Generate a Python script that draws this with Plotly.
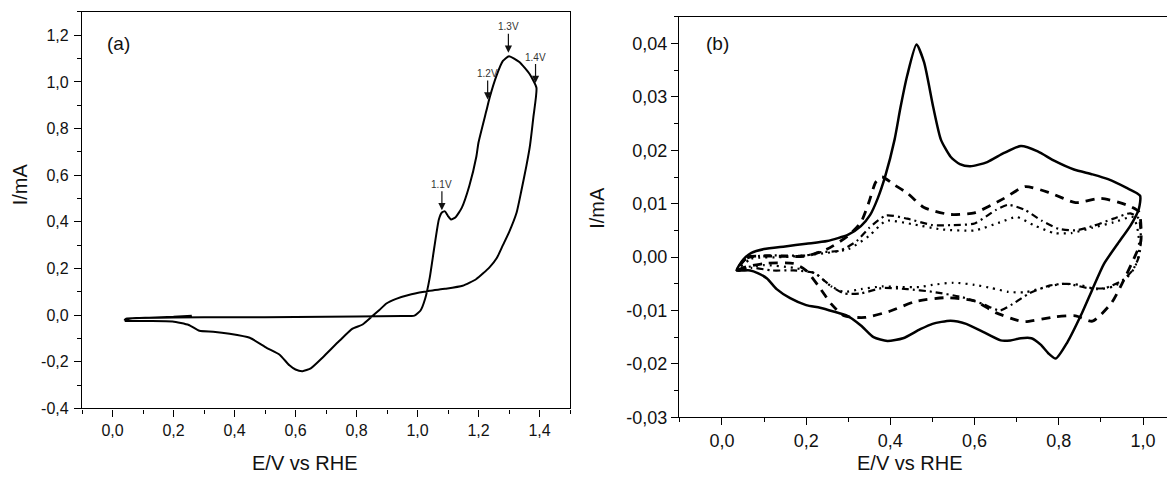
import plotly.graph_objects as go

# ---------------- Panel (a) data ----------------
a_x = [0.26, 0.20, 0.12, 0.06, 0.04, 0.045, 0.08, 0.2, 0.4, 0.6, 0.8, 0.95, 0.99, 1.01, 1.025, 1.04,
       1.055, 1.07, 1.08, 1.09, 1.10, 1.11, 1.125, 1.145, 1.17, 1.193, 1.2, 1.226, 1.236, 1.26, 1.28,
       1.30, 1.334, 1.367, 1.39,
       1.38, 1.368, 1.357, 1.34, 1.325, 1.30, 1.28, 1.26, 1.236, 1.193, 1.148, 1.09, 1.04, 0.98, 0.93,
       0.898, 0.875, 0.852, 0.82, 0.787, 0.744, 0.69, 0.65, 0.623, 0.6, 0.58, 0.548, 0.505, 0.45,
       0.384, 0.33, 0.285, 0.25, 0.197, 0.12, 0.04]
a_y = [-0.002, -0.007, -0.011, -0.014, -0.02, -0.015, -0.012, -0.010, -0.009, -0.008, -0.006, -0.004,
       -0.002, 0.02, 0.07, 0.16, 0.29, 0.41, 0.44, 0.445, 0.425, 0.41, 0.42, 0.46, 0.555, 0.68, 0.74,
       0.877, 0.93, 1.03, 1.09, 1.11, 1.085, 1.035, 0.975,
       0.85, 0.72, 0.64, 0.53, 0.44, 0.355, 0.30, 0.245, 0.205, 0.155, 0.126, 0.113, 0.105, 0.09, 0.07,
       0.05, 0.022, -0.004, -0.04, -0.058, -0.11, -0.18, -0.228, -0.24, -0.233, -0.215, -0.17, -0.14,
       -0.097, -0.08, -0.071, -0.067, -0.042, -0.027, -0.025, -0.025]

a_marks = ["1.1V", "1.2V", "1.3V", "1.4V"]
a_mark_x = [1.08, 1.23, 1.298, 1.387]
a_mark_y = [0.45, 0.925, 1.125, 0.995]

a_xticks = [0.0, 0.2, 0.4, 0.6, 0.8, 1.0, 1.2, 1.4]
a_xtext = ["0,0", "0,2", "0,4", "0,6", "0,8", "1,0", "1,2", "1,4"]
a_yticks = [-0.4, -0.2, 0.0, 0.2, 0.4, 0.6, 0.8, 1.0, 1.2]
a_ytext = ["-0,4", "-0,2", "0,0", "0,2", "0,4", "0,6", "0,8", "1,0", "1,2"]

# ---------------- Panel (b) data ----------------
b_solid_x = [0.035, 0.05, 0.07, 0.1, 0.15, 0.2, 0.25, 0.3, 0.33, 0.352, 0.37, 0.388, 0.41, 0.424, 0.44,
             0.462, 0.48, 0.502, 0.52, 0.543, 0.565, 0.59, 0.63, 0.67, 0.71, 0.75, 0.79, 0.836, 0.88,
             0.917, 0.96, 0.993,
             0.99, 0.971, 0.94, 0.907, 0.88, 0.852, 0.82, 0.793, 0.775, 0.757, 0.735, 0.71, 0.685, 0.662,
             0.62, 0.58, 0.543, 0.5, 0.471, 0.43, 0.393, 0.36, 0.33, 0.298, 0.265, 0.233, 0.2, 0.162,
             0.13, 0.107, 0.085, 0.067, 0.05, 0.035]
b_solid_y = [-0.0025, -0.0005, 0.0008, 0.0015, 0.002, 0.0025, 0.003, 0.0042, 0.0058, 0.0079, 0.011,
             0.0152, 0.022, 0.028, 0.034, 0.0398, 0.0365, 0.028, 0.022, 0.0188, 0.0174, 0.017, 0.0178,
             0.0195, 0.0208, 0.0198, 0.018, 0.0164, 0.0155, 0.0146, 0.013, 0.0115,
             0.009, 0.006, 0.0025, -0.0013, -0.006, -0.011, -0.016, -0.019, -0.018, -0.0164, -0.0152,
             -0.0152, -0.0156, -0.0156, -0.014, -0.0125, -0.0119, -0.0125, -0.0135, -0.0152, -0.0157,
             -0.015, -0.0128, -0.011, -0.0102, -0.0095, -0.009, -0.0077, -0.006, -0.004, -0.003,
             -0.0025, -0.0025, -0.0025]

b_dash_x = [0.035, 0.06, 0.1, 0.2, 0.25, 0.3, 0.33, 0.35, 0.365, 0.38, 0.41, 0.44, 0.48, 0.54, 0.6,
            0.67, 0.72, 0.78, 0.84, 0.9, 0.96, 0.99,
            0.995, 0.98, 0.95, 0.925, 0.88, 0.84, 0.79, 0.72, 0.7, 0.65, 0.6, 0.53, 0.46, 0.4, 0.34,
            0.29, 0.26, 0.23, 0.2, 0.17, 0.1, 0.05, 0.035]
b_dash_y = [-0.0025, 0.0, 0.0002, 0.0002, 0.0015, 0.004, 0.0065, 0.0105, 0.014, 0.015, 0.0135, 0.012,
            0.0093, 0.008, 0.0083, 0.011, 0.0132, 0.012, 0.0102, 0.011, 0.0098, 0.0085,
            0.003, 0.0, -0.005, -0.0086, -0.012, -0.011, -0.0112, -0.0121, -0.0118, -0.0104, -0.0082,
            -0.0076, -0.0083, -0.0101, -0.0113, -0.011, -0.0088, -0.0055, -0.0025, -0.0012, -0.0012,
            -0.002, -0.0025]

b_dashdot_x = [0.035, 0.06, 0.1, 0.2, 0.23, 0.28, 0.32, 0.35, 0.39, 0.44, 0.5, 0.55, 0.6, 0.65, 0.68,
               0.72, 0.76, 0.8, 0.84, 0.88, 0.93, 0.97, 0.99,
               0.995, 0.99, 0.975, 0.95, 0.91, 0.87, 0.82, 0.78, 0.73, 0.69, 0.66, 0.62, 0.57, 0.5,
               0.44, 0.38, 0.33, 0.29, 0.26, 0.22, 0.17, 0.12, 0.07, 0.035]
b_dashdot_y = [-0.0025, -0.0002, 0.0003, 0.0003, 0.0009, 0.0012, 0.003, 0.0055, 0.0078, 0.0072, 0.006,
               0.006, 0.0063, 0.0088, 0.0098, 0.0088, 0.0068, 0.0053, 0.005, 0.0058, 0.0072, 0.0082,
               0.0072,
               0.003, 0.0, -0.0025, -0.0044, -0.0058, -0.0058, -0.005, -0.0053, -0.0068, -0.0088, -0.01,
               -0.0088, -0.0075, -0.0065, -0.006, -0.0058, -0.0068, -0.0068, -0.0055, -0.003, -0.0025,
               -0.0025, -0.002, -0.0025]

b_dot_x = [0.035, 0.07, 0.15, 0.22, 0.3, 0.35, 0.39, 0.45, 0.52, 0.6, 0.66, 0.7, 0.74, 0.79, 0.83, 0.88,
           0.93, 0.975, 0.985,
           0.99, 0.99, 0.98, 0.96, 0.93, 0.89, 0.85, 0.81, 0.76, 0.72, 0.68, 0.64, 0.6, 0.55, 0.5, 0.47,
           0.42, 0.38, 0.33, 0.29, 0.26, 0.22, 0.17, 0.1, 0.05, 0.035]
b_dot_y = [-0.0025, -0.0003, 0.0, 0.0005, 0.0015, 0.004, 0.0068, 0.0062, 0.0052, 0.005, 0.0065, 0.0075,
           0.006, 0.0045, 0.0045, 0.0055, 0.0065, 0.0075, 0.006,
           0.0035, 0.0005, -0.002, -0.004, -0.0055, -0.006, -0.0052, -0.005, -0.0058, -0.0066, -0.0065,
           -0.0058, -0.0052, -0.0048, -0.0052, -0.0056, -0.0056, -0.0055, -0.006, -0.0065, -0.0055,
           -0.003, -0.002, -0.0015, -0.002, -0.0025]

b_xticks = [0.0, 0.2, 0.4, 0.6, 0.8, 1.0]
b_xtext = ["0,0", "0,2", "0,4", "0,6", "0,8", "1,0"]
b_yticks = [-0.03, -0.02, -0.01, 0.0, 0.01, 0.02, 0.03, 0.04]
b_ytext = ["-0,03", "-0,02", "-0,01", "0,00", "0,01", "0,02", "0,03", "0,04"]

FONT = "Arial, Liberation Sans, sans-serif"
# the page body has an 8px default margin, so the figure starts at (8, 8) in the window
OFF = 8
W, H = 1175 - OFF, 488 - OFF

fig = go.Figure()

fig.add_trace(go.Scatter(x=a_x, y=a_y, mode="lines", xaxis="x", yaxis="y",
                         line=dict(color="black", width=2, shape="spline", smoothing=0.5),
                         showlegend=False, hoverinfo="skip"))

line_specs = [
    (b_solid_x, b_solid_y, "solid", 2.5),
    (b_dash_x, b_dash_y, "9px,7px", 2.8),
    (b_dashdot_x, b_dashdot_y, "7px,4px,2px,4px", 2.2),
    (b_dot_x, b_dot_y, "2px,5px", 2.2),
]
for xs, ys, dash, w in line_specs:
    fig.add_trace(go.Scatter(x=xs, y=ys, mode="lines", xaxis="x2", yaxis="y2",
                             line=dict(color="black", width=w, dash=dash, shape="spline", smoothing=0.6),
                             showlegend=False, hoverinfo="skip"))


def px_x(p):
    return (p - OFF) / W


def px_y(p):
    return 1 - (p - OFF) / H


def axis_common(size, standoff=0):
    return dict(showgrid=False, zeroline=False, showline=True, linecolor="black", linewidth=1.3,
                ticks="outside", ticklen=7, tickwidth=1.3, tickcolor="black",
                ticklabelstandoff=standoff,
                tickfont=dict(family=FONT, size=size, color="#111"))


minor_a = dict(ticks="outside", ticklen=4, dtick=0.1, tick0=0, tickcolor="black")

b_right = (1175 - 722) / 421.0

fig.update_layout(
    width=W, height=H, margin=dict(l=0, r=0, t=0, b=0),
    paper_bgcolor="white", plot_bgcolor="white",
    xaxis=dict(domain=[px_x(82), px_x(570)], range=[-0.1, 1.5], anchor="y", mirror=True,
               tickvals=a_xticks, ticktext=a_xtext, minor=minor_a, **axis_common(16)),
    yaxis=dict(domain=[px_y(417), px_y(12)], range=[-0.4, 1.3], anchor="x", mirror=True,
               tickvals=a_yticks, ticktext=a_ytext, minor=minor_a, **axis_common(16, 2)),
    xaxis2=dict(domain=[px_x(679), 1.0], range=[-0.102, b_right], anchor="y2", mirror=True,
                tickvals=b_xticks, ticktext=b_xtext, minor=minor_a, **axis_common(18)),
    yaxis2=dict(domain=[px_y(426), px_y(17)], range=[-0.03, 0.045], anchor="x2", mirror=False,
                tickvals=b_yticks, ticktext=b_ytext,
                minor=dict(ticks="outside", ticklen=4, dtick=0.005, tick0=0, tickcolor="black"),
                **axis_common(18)),
)

ann = []


def text_ann(t, cx, cy, size, angle=0):
    return dict(text=t, x=px_x(cx), y=px_y(cy), xref="paper", yref="paper", showarrow=False,
                xanchor="center", yanchor="middle", textangle=angle,
                font=dict(family=FONT, size=size, color="#111"))


ann.append(text_ann("(a)", 118, 44, 19))
ann.append(text_ann("(b)", 717, 44, 19))
ann.append(text_ann("E/V vs RHE", 305, 473, 20))
ann.append(text_ann("E/V vs RHE", 910, 473, 20))
ann.append(text_ann("I/mA", 20, 188, 20, -90))
ann.append(text_ann("I/mA", 597, 212, 20, -90))

for t, mx, my in zip(a_marks, a_mark_x, a_mark_y):
    ann.append(dict(text=t, x=mx, y=my, xref="x", yref="y", showarrow=True, arrowhead=2,
                    arrowsize=1.2, arrowwidth=1.2, arrowcolor="#111", ax=0, ay=-26,
                    font=dict(family=FONT, size=10, color="#333")))
fig.update_layout(annotations=ann)

fig.write_html("out.html")
